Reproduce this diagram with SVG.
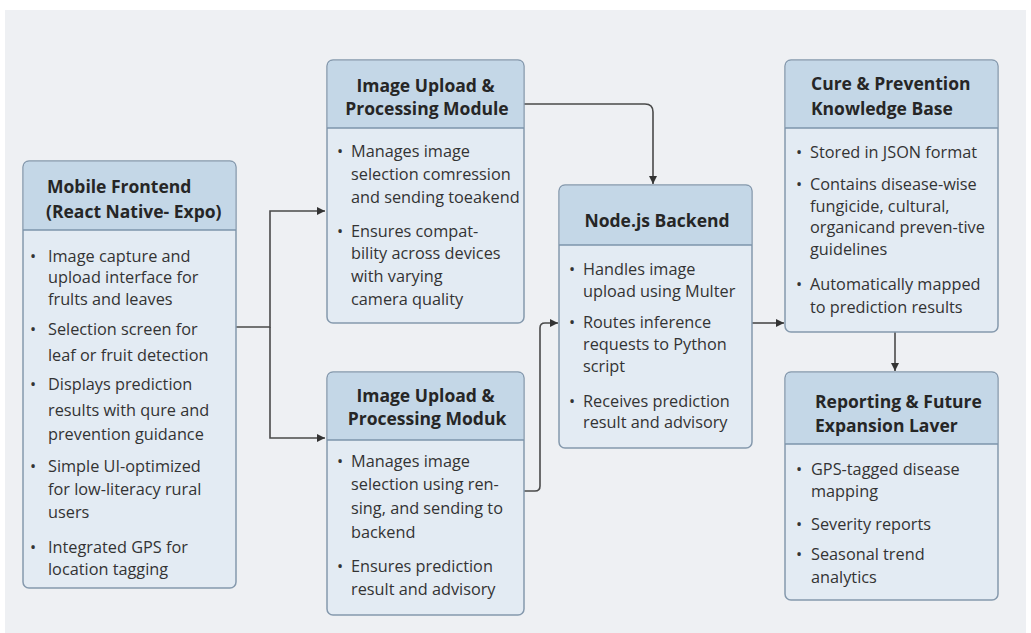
<svg xmlns="http://www.w3.org/2000/svg" width="1031" height="633" viewBox="0 0 1031 633">
<defs>
<marker id="arr" viewBox="0 0 10 10" refX="10" refY="5" markerWidth="8" markerHeight="8" markerUnits="userSpaceOnUse" orient="auto">
<path d="M0,0 L10,5 L0,10 z" fill="#333"/>
</marker>
<style>
.box{fill:#e3ebf3;stroke:#8599ad;stroke-width:1.5}
.hdr{fill:#c4d7e7}
.div{stroke:#7d95ab;stroke-width:1.5}
.t{font-family:"Open Sans","Liberation Sans",sans-serif;font-weight:700;font-size:17.5px;fill:#262626}
.b{font-family:"Open Sans","Liberation Sans",sans-serif;font-size:16.3px;fill:#333333}
.c{fill:none;stroke:#4a4a4a;stroke-width:1.6}
</style>
</defs>
<rect x="0" y="0" width="1031" height="633" fill="#ffffff"/>
<rect x="5" y="10" width="1021" height="623" fill="#eef0f3"/>

<g id="connectors">
<path class="c" d="M236,327 H270 V211 H325" marker-end="url(#arr)"/>
<path class="c" d="M270,327 V438 H325" marker-end="url(#arr)"/>
<path class="c" d="M524,104 H645 Q653,104 653,112 V184" marker-end="url(#arr)"/>
<path class="c" d="M524,491 H535 Q540,491 540,486 V328 Q540,323 545,323 H558" marker-end="url(#arr)"/>
<path class="c" d="M752,323 H784" marker-end="url(#arr)"/>
<path class="c" d="M895,332 V371" marker-end="url(#arr)"/>
</g>

<g id="mobile-frontend">
<rect class="box" x="23" y="161" width="213" height="427" rx="6"/>
<path class="hdr" d="M29,161.75 H230 Q235.25,161.75 235.25,167 V230 H23.75 V167 Q23.75,161.75 29,161.75 z"/>
<line class="div" x1="23" y1="230" x2="236" y2="230"/>
<text class="t" x="47" y="193">Mobile Frontend</text>
<text class="t" x="46" y="218">(React Native- Expo)</text>
<g class="b">
<text x="30" y="262">•</text><text x="48" y="262">Image capture and</text>
<text x="48" y="283">upload interface for</text>
<text x="48" y="305">frults and leaves</text>
<text x="30" y="335">•</text><text x="48" y="335">Selection screen for</text>
<text x="48" y="361">leaf or fruit detection</text>
<text x="30" y="390">•</text><text x="48" y="390">Displays prediction</text>
<text x="48" y="416">results with qure and</text>
<text x="48" y="440">prevention guidance</text>
<text x="30" y="472">•</text><text x="48" y="472">Simple UI-optimized</text>
<text x="48" y="495">for low-literacy rural</text>
<text x="48" y="518">users</text>
<text x="30" y="553">•</text><text x="48" y="553">Integrated GPS for</text>
<text x="48" y="575">location tagging</text>
</g>
</g>

<g id="upload-top">
<rect class="box" x="327" y="60" width="197" height="263" rx="6"/>
<path class="hdr" d="M333,60.75 H518 Q523.25,60.75 523.25,66 V128 H327.75 V66 Q327.75,60.75 333,60.75 z"/>
<line class="div" x1="327" y1="128" x2="524" y2="128"/>
<text class="t" x="425.5" y="92" text-anchor="middle">Image Upload &amp;</text>
<text class="t" x="427" y="115" text-anchor="middle">Processing Module</text>
<g class="b">
<text x="337" y="157">•</text><text x="351" y="157">Manages image</text>
<text x="351" y="180">selection  comression</text>
<text x="351" y="203">and sending toeakend</text>
<text x="337" y="237">•</text><text x="351" y="237">Ensures compat-</text>
<text x="351" y="259">bility across devices</text>
<text x="351" y="282">with varying</text>
<text x="351" y="305">camera quality</text>
</g>
</g>

<g id="upload-bottom">
<rect class="box" x="327" y="372" width="197" height="243" rx="6"/>
<path class="hdr" d="M333,372.75 H518 Q523.25,372.75 523.25,378 V440 H327.75 V378 Q327.75,372.75 333,372.75 z"/>
<line class="div" x1="327" y1="440" x2="524" y2="440"/>
<text class="t" x="425.5" y="402" text-anchor="middle">Image Upload &amp;</text>
<text class="t" x="427" y="425" text-anchor="middle">Processing Moduk</text>
<g class="b">
<text x="337" y="467">•</text><text x="351" y="467">Manages image</text>
<text x="351" y="490">selection using ren-</text>
<text x="351" y="514">sing, and sending to</text>
<text x="351" y="538">backend</text>
<text x="337" y="572">•</text><text x="351" y="572">Ensures prediction</text>
<text x="351" y="595">result and advisory</text>
</g>
</g>

<g id="nodejs-backend">
<rect class="box" x="559" y="185" width="193" height="263" rx="6"/>
<path class="hdr" d="M565,185.75 H746 Q751.25,185.75 751.25,191 V245 H559.75 V191 Q559.75,185.75 565,185.75 z"/>
<line class="div" x1="559" y1="245" x2="752" y2="245"/>
<text class="t" x="657" y="227" text-anchor="middle">Node.js Backend</text>
<g class="b">
<text x="569" y="275">•</text><text x="583" y="275">Handles image</text>
<text x="583" y="297">upload using Multer</text>
<text x="569" y="328">•</text><text x="583" y="328">Routes inference</text>
<text x="583" y="350">requests to Python</text>
<text x="583" y="372">script</text>
<text x="569" y="407">•</text><text x="583" y="407">Receives prediction</text>
<text x="583" y="428">result and advisory</text>
</g>
</g>

<g id="knowledge-base">
<rect class="box" x="785" y="60" width="213" height="272" rx="6"/>
<path class="hdr" d="M791,60.75 H992 Q997.25,60.75 997.25,66 V128 H785.75 V66 Q785.75,60.75 791,60.75 z"/>
<line class="div" x1="785" y1="128" x2="998" y2="128"/>
<text class="t" x="811" y="90">Cure &amp; Prevention</text>
<text class="t" x="811" y="115">Knowledge Base</text>
<g class="b">
<text x="796" y="158">•</text><text x="810" y="158">Stored in JSON format</text>
<text x="796" y="190">•</text><text x="810" y="190">Contains disease-wise</text>
<text x="810" y="212">fungicide, cultural,</text>
<text x="810" y="233">organicand preven-tive</text>
<text x="810" y="255">guidelines</text>
<text x="796" y="290">•</text><text x="810" y="290">Automatically mapped</text>
<text x="810" y="313">to prediction results</text>
</g>
</g>

<g id="reporting">
<rect class="box" x="785" y="372" width="213" height="228" rx="6"/>
<path class="hdr" d="M791,372.75 H992 Q997.25,372.75 997.25,378 V444 H785.75 V378 Q785.75,372.75 791,372.75 z"/>
<line class="div" x1="785" y1="444" x2="998" y2="444"/>
<text class="t" x="815" y="408">Reporting &amp; Future</text>
<text class="t" x="815" y="432">Expansion Laver</text>
<g class="b">
<text x="796" y="475">•</text><text x="811" y="475">GPS-tagged disease</text>
<text x="811" y="497">mapping</text>
<text x="796" y="530">•</text><text x="811" y="530">Severity reports</text>
<text x="796" y="560">•</text><text x="811" y="560">Seasonal trend</text>
<text x="811" y="583">analytics</text>
</g>
</g>
</svg>
